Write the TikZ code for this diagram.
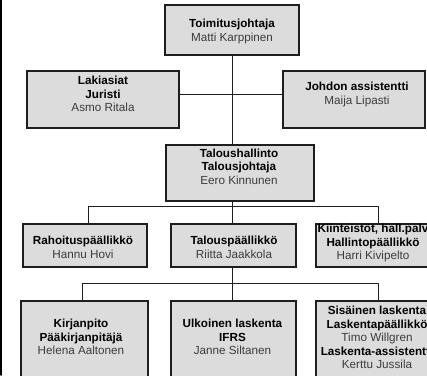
\documentclass[tikz,border=0pt]{standalone}
\usepackage{fontspec}
\setmainfont{Liberation Sans}
\usetikzlibrary{positioning}
\definecolor{boxfill}{RGB}{220,220,220}
\definecolor{boxline}{RGB}{30,30,30}
\definecolor{namegray}{RGB}{60,60,60}
\newcommand{\rolename}[1]{\textbf{#1}}
\newcommand{\person}[1]{\textcolor{namegray}{#1}}

\begin{document}
\begin{tikzpicture}[x=1pt,y=-1pt, line cap=round, line join=round,
  unit/.style={draw=boxline, fill=boxfill, line width=1.8pt, line join=miter, inner sep=0pt},
  lbl/.style={align=center, inner sep=0pt, font=\fontsize{11.7}{13.5}\selectfont},
  link/.style={draw=boxline, line width=1pt}]
\useasboundingbox (0,0) rectangle (427,375);
\clip (0,0) rectangle (427,375);

% Left frame edge
\draw[line width=1.6pt, black] (0.8,0) -- (0.8,375);

% Management
\node[unit, minimum width=134pt, minimum height=50pt] (ceo) at (232,30) {};
\node[unit, minimum width=152pt, minimum height=57pt] (law) at (103,99.5) {};
\node[unit, minimum width=142pt, minimum height=57pt] (asst) at (354,99.5) {};
\node[unit, minimum width=148pt, minimum height=56pt] (fin) at (240,173) {};

% Second row
\node[unit, minimum width=124pt, minimum height=43pt] (fund) at (85,245.5) {};
\node[unit, minimum width=125pt, minimum height=43pt] (ctrl) at (233.5,245.5) {};
\node[unit, minimum width=124pt, minimum height=43pt] (prop) at (378,245.5) {};

% Third row
\node[unit, minimum width=127pt, minimum height=99pt] (books) at (84.5,350.5) {};
\node[unit, minimum width=125pt, minimum height=99pt] (ext) at (233.5,350.5) {};
\node[unit, minimum width=124pt, minimum height=99pt] (int) at (378,350.5) {};

% Connectors
\coordinate (hub) at (232,94);
\draw[link] (ceo.south) -- (ceo.south |- fin.north);
\draw[link] (law.east |- hub) -- (asst.west |- hub);

\coordinate (bus1) at (232,206);
\coordinate (bus1l) at (88,206);
\coordinate (bus1r) at (378,206);
\draw[link] (fin.south -| bus1) -- (bus1);
\draw[link] (bus1l |- fund.north) -- (bus1l) -- (bus1r) -- (bus1r |- prop.north);
\draw[link] (bus1) -- (bus1 |- ctrl.north);

\coordinate (bus2) at (232,283);
\coordinate (bus2l) at (82,283);
\coordinate (bus2r) at (378,283);
\draw[link] (ctrl.south -| bus2) -- (bus2);
\draw[link] (bus2l |- books.north) -- (bus2l) -- (bus2r) -- (bus2r |- int.north);
\draw[link] (bus2) -- (bus2 |- ext.north);

% Labels
\node[lbl] (ceo-t) at (232,31.5) {\rolename{Toimitusjohtaja}\\\person{Matti Karppinen}};
\node[lbl] (law-t) at (103,94.3) {\rolename{Lakiasiat}\\\rolename{Juristi}\\\person{Asmo Ritala}};
\node[lbl] (asst-t) at (357,94.5) {\rolename{Johdon assistentti}\\\person{Maija Lipasti}};
\node[lbl] (fin-t) at (239,166.7) {\rolename{Taloushallinto}\\\rolename{Talousjohtaja}\\\person{Eero Kinnunen}};

\node[lbl] (fund-t) at (83,247.5) {\rolename{Rahoituspäällikkö}\\\person{Hannu Hovi}};
\node[lbl] (ctrl-t) at (234,247.5) {\rolename{Talouspäällikkö}\\\person{Riitta Jaakkola}};
\node[lbl] (prop-t) at (373,243) {\rolename{Kiinteistöt, hall.palv}\\\rolename{Hallintopäällikkö}\\\person{Harri Kivipelto}};

\node[lbl] (books-t) at (81,337) {\rolename{Kirjanpito}\\\rolename{Pääkirjanpitäjä}\\\person{Helena Aaltonen}};
\node[lbl] (ext-t) at (232.5,337) {\rolename{Ulkoinen laskenta}\\\rolename{IFRS}\\\person{Janne Siltanen}};
\node[lbl] (int-t) at (377,337.8) {\rolename{Sisäinen laskenta}\\\rolename{Laskentapäällikkö}\\\person{Timo Willgren}\\\rolename{Laskenta-assistentti}\\\person{Kerttu Jussila}};
\end{tikzpicture}
\end{document}
